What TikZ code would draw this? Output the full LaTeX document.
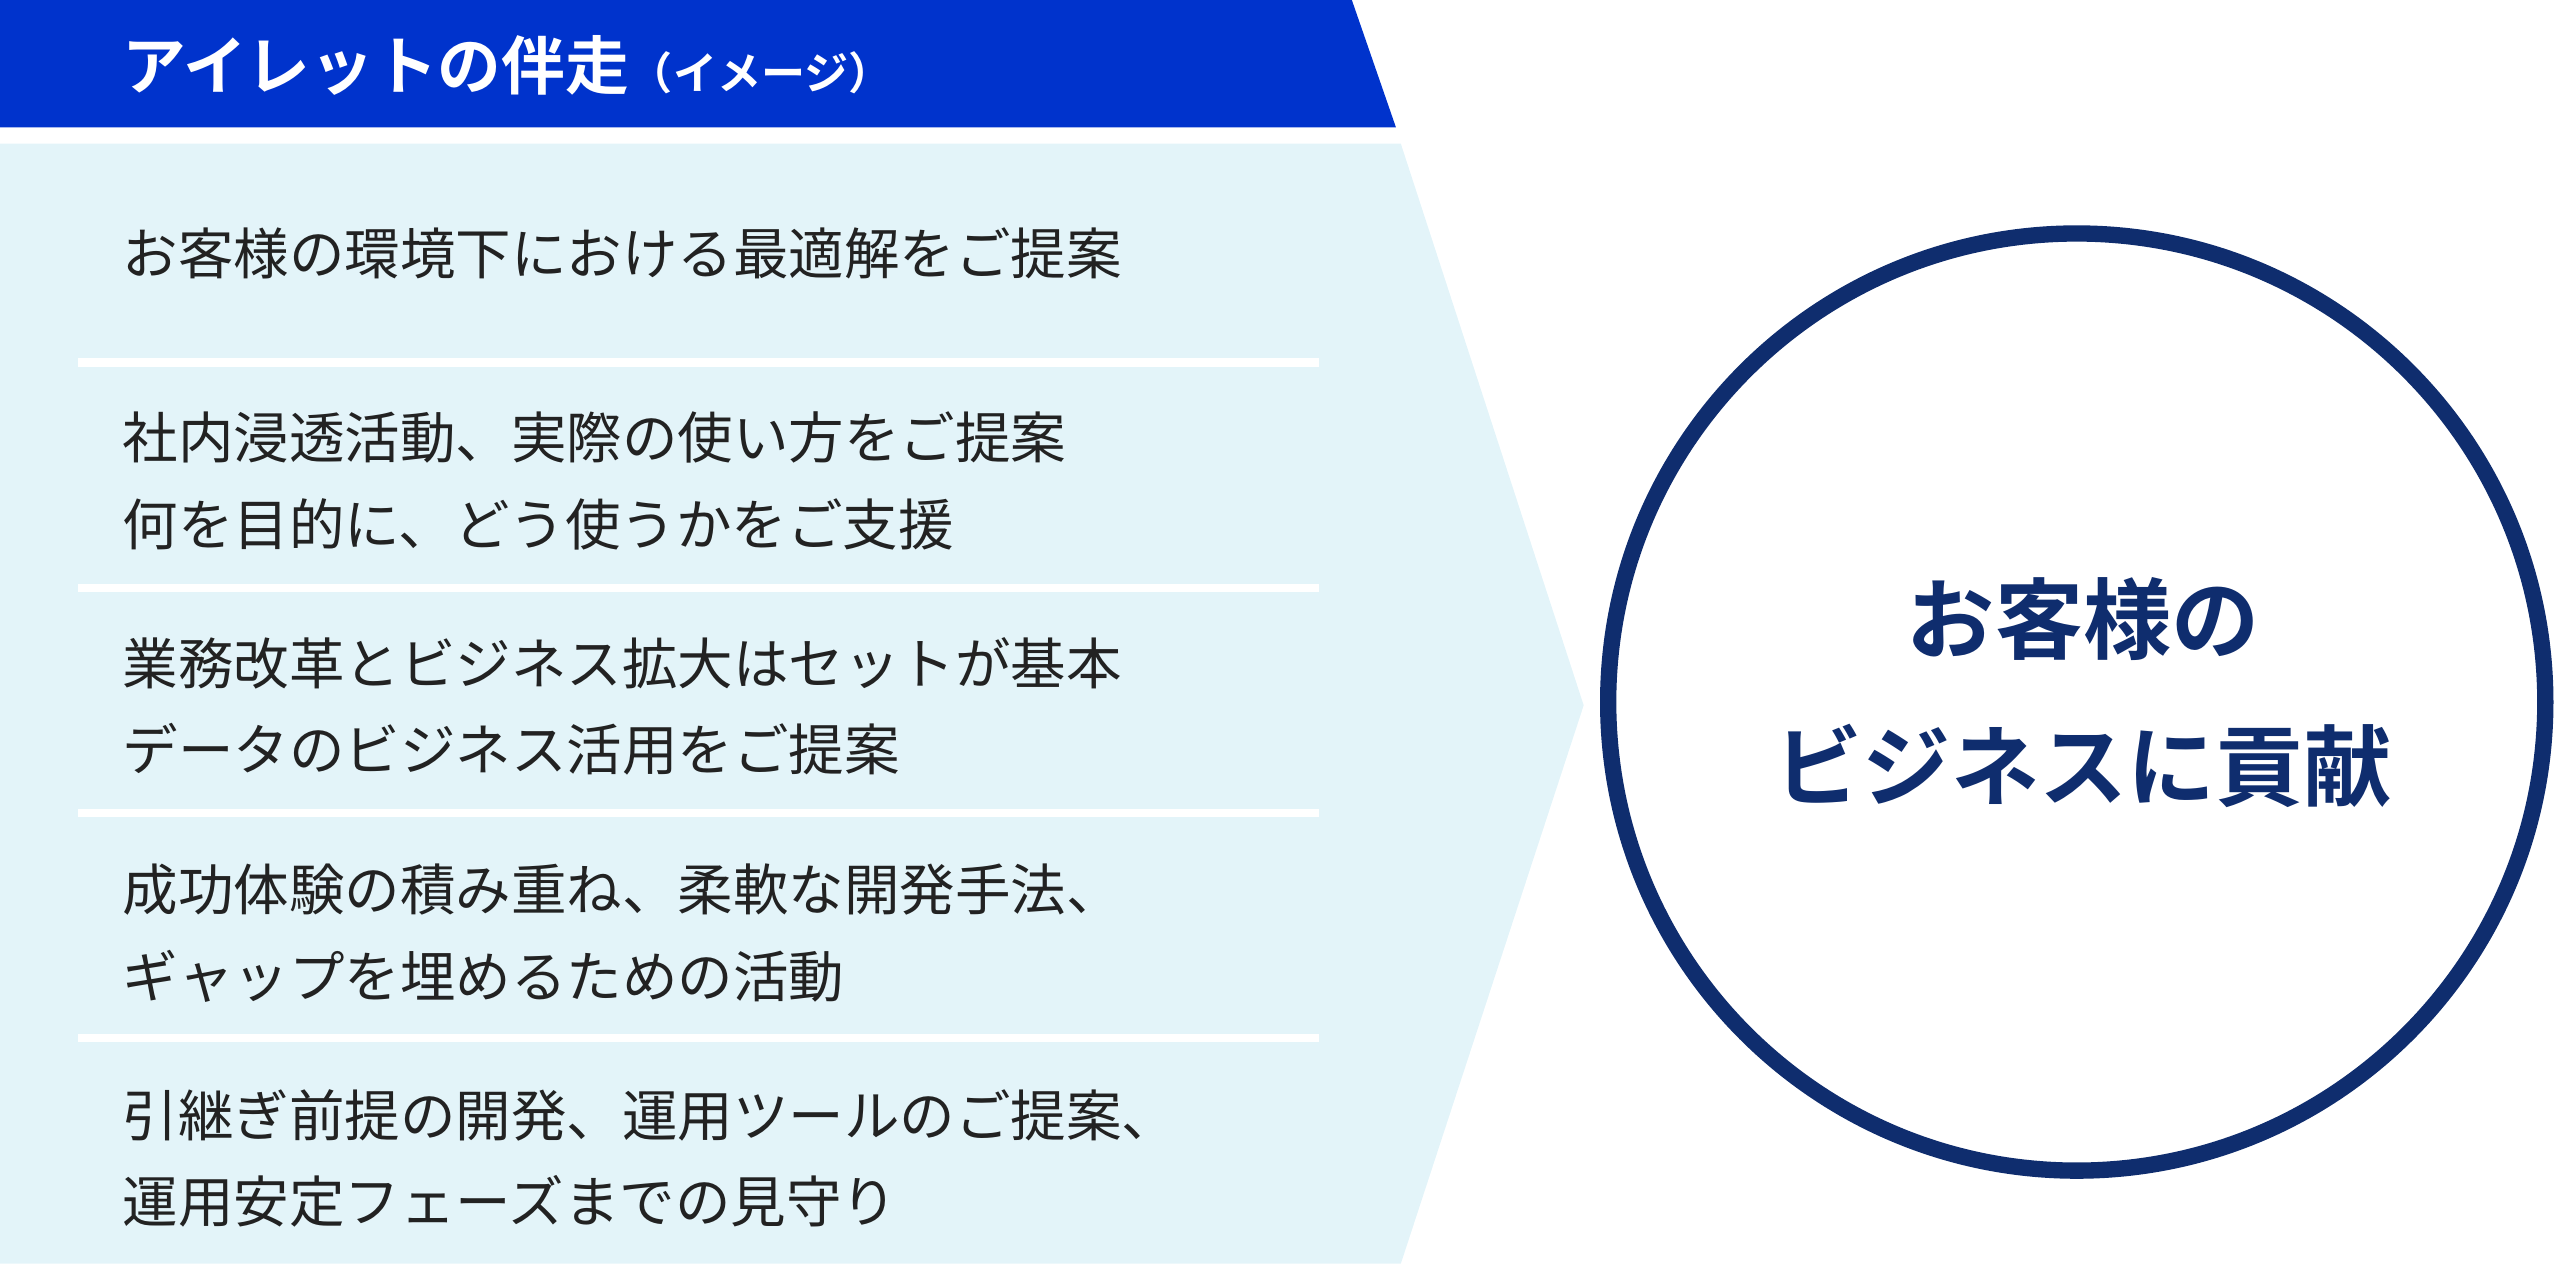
\documentclass[tikz,border=0pt]{standalone}
\usepackage{fontspec}
\setmainfont{Noto Sans CJK JP}
\newfontfamily\jpb{Noto Sans CJK JP Bold}
\definecolor{bandblue}{RGB}{0,51,204}
\definecolor{lightbg}{RGB}{227,244,249}
\definecolor{navy}{RGB}{15,45,110}
\definecolor{txt}{RGB}{34,34,34}
\begin{document}
\begin{tikzpicture}[x=1pt,y=-1pt,
  item/.style={anchor=west,text=txt,font=\fontsize{34}{40}\selectfont,inner sep=0},
  sep/.style={draw=white,line width=5pt}]
\useasboundingbox (0,0) rectangle (1568,774);
\fill[lightbg] (0,88) -- (858,88) -- (970,432) -- (858,774) -- (0,774) -- cycle;
\fill[bandblue] (0,0) -- (828,0) -- (855,78) -- (0,78) -- cycle;
\node[anchor=west,text=white,inner sep=0] (title) at (75,40) {\jpb\fontsize{39}{44}\selectfont アイレットの伴走\fontsize{27}{30}\selectfont\mdseries（イメージ）};
\foreach \y in {222,360,498,636} \draw[sep] (48,\y) -- (808,\y);
\node[item] (t1) at (75,155) {お客様の環境下における最適解をご提案};
\node[item] (t2a) at (75,268) {社内浸透活動、実際の使い方をご提案};
\node[item] (t2b) at (75,321) {何を目的に、どう使うかをご支援};
\node[item] (t3a) at (75,406) {業務改革とビジネス拡大はセットが基本};
\node[item] (t3b) at (75,459) {データのビジネス活用をご提案};
\node[item] (t4a) at (75,545) {成功体験の積み重ね、柔軟な開発手法、};
\node[item] (t4b) at (75,598) {ギャップを埋めるための活動};
\node[item] (t5a) at (75,683) {引継ぎ前提の開発、運用ツールのご提案、};
\node[item] (t5b) at (75,736) {運用安定フェーズまでの見守り};
\draw[navy,line width=10pt,fill=white] (1272,430) circle (287);
\node[text=navy,align=center,inner sep=0,font=\jpb\fontsize{54}{90}\selectfont] (goal) at (1276,424) {お客様の\\ビジネスに貢献};
\end{tikzpicture}
\end{document}
